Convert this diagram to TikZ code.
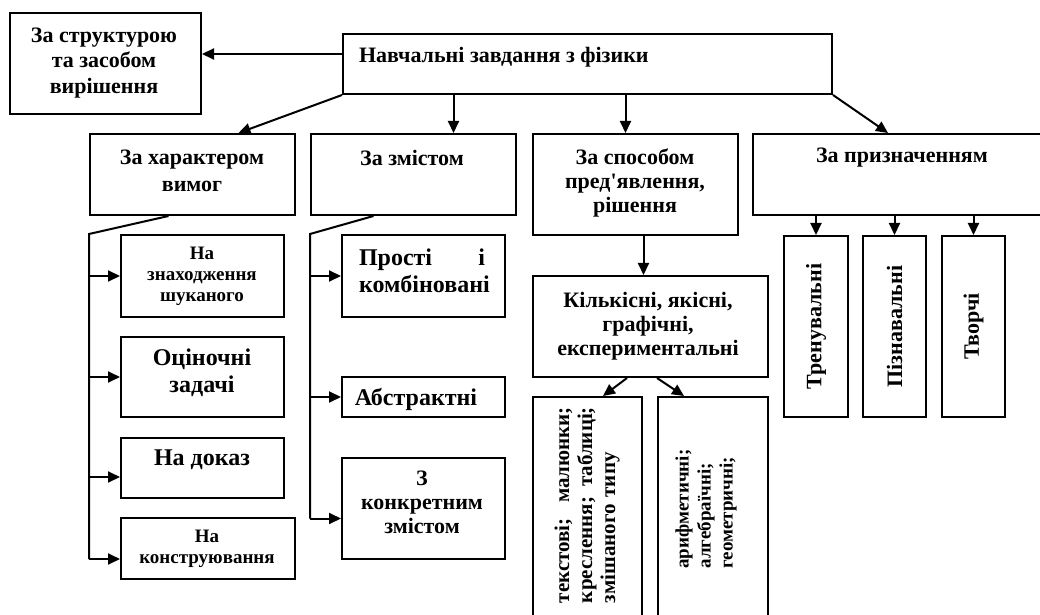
\documentclass[tikz,border=0pt]{standalone}
\usepackage{fontspec}
\setmainfont{Liberation Serif}[Ligatures=TeXOff]
\usetikzlibrary{arrows.meta,positioning}

\begin{document}
\begin{tikzpicture}[x=0.5pt,y=-0.5pt,>={Triangle[length=6pt,width=5.5pt]},line width=1pt]
  \tikzstyle{box}=[draw,line width=1pt,inner sep=0pt,anchor=north west]
  \tikzstyle{txt}=[inner sep=0pt,align=center,font=\bfseries\fontsize{11}{12.75}\selectfont]
  \tikzstyle{small}=[txt,font=\bfseries\fontsize{9.5}{10.5}\selectfont]
  \tikzstyle{big}=[txt,font=\bfseries\fontsize{12}{13.5}\selectfont]
  \tikzstyle{upright}=[txt,rotate=90,font=\bfseries\fontsize{10.5}{11.5}\selectfont]
  \clip (0,0) rectangle (1040,615);

  % top level
  \node [box,minimum width=95.5pt,minimum height=50.5pt] (struct) at (9,12) {};
  \node [txt] (structt) at (104,63) {За структурою\\та засобом\\вирішення};
  \node [box,minimum width=244.5pt,minimum height=30pt] (main) at (342,33) {};
  \node [txt,anchor=west] (maint) at (358,57) {Навчальні завдання з фізики};

  % second level
  \node [box,minimum width=102.5pt,minimum height=40.5pt] (char) at (89,133) {};
  \node [txt,font=\bfseries\fontsize{11}{13.5}\selectfont] (chart) at (192,171) {За характером\\вимог};
  \node [box,minimum width=102.5pt,minimum height=40.5pt] (zmist) at (310,133) {};
  \node [txt] (zmistt) at (412,158) {За змістом};
  \node [box,minimum width=102.5pt,minimum height=50.5pt] (sposib) at (532,133) {};
  \node [txt,font=\bfseries\fontsize{11}{12}\selectfont] (sposibt) at (635,183) {За способом\\пред'явлення,\\рішення};
  \node [box,minimum width=150pt,minimum height=40.5pt] (pryzn) at (752,133) {};
  \node [txt] (pryznt) at (902,158) {За призначенням};

  % za kharakterom vymog
  \node [box,minimum width=81.5pt,minimum height=41pt] (b1) at (120,234) {};
  \node [small] (b1t) at (202,276) {На\\знаходження\\шуканого};
  \node [box,minimum width=81.5pt,minimum height=40pt] (b2) at (120,336) {};
  \node [big] (b2t) at (202,373) {Оціночні\\задачі};
  \node [box,minimum width=81.5pt,minimum height=30pt] (b3) at (120,437) {};
  \node [big] (b3t) at (202,460) {На доказ};
  \node [box,minimum width=87pt,minimum height=30.5pt] (b4) at (120,517) {};
  \node [small] (b4t) at (207,549) {На\\конструювання};

  % za zmistom
  \node [box,minimum width=81.5pt,minimum height=41pt] (c1) at (341,234) {};
  \node [big,text width=63pt,align=left] (c1t) at (422,271) {Прості\hfill і\\комбіновані};
  \node [box,minimum width=81.5pt,minimum height=20pt] (c2) at (341,376) {};
  \node [big] (c2t) at (416,399) {Абстрактні};
  \node [box,minimum width=81.5pt,minimum height=50.5pt] (c3) at (341,457) {};
  \node [txt,font=\bfseries\fontsize{11}{12}\selectfont] (c3t) at (422,502) {З\\конкретним\\змістом};

  % za sposobom
  \node [box,minimum width=117.5pt,minimum height=50.5pt] (kilk) at (532,275) {};
  \node [txt,font=\bfseries\fontsize{11}{12}\selectfont] (kilkt) at (648,326) {Кількісні, якісні,\\графічні,\\експериментальні};
  \node [box,minimum width=54.5pt,minimum height=115pt] (tekst) at (532,396) {};
  \node [upright,text width=98pt,align=left] (tekstt) at (587,505) {текстові;\hfill малюнки;\\креслення;\hfill таблиці;\\змішаного типу};
  \node [box,minimum width=55pt,minimum height=115pt] (aryf) at (657,396) {};
  \node [upright,align=left,font=\bfseries\fontsize{9.5}{11}\selectfont] (aryft) at (706,509) {арифметичні;\\алгебраїчні;\\геометричні;};

  % za pryznachenniam
  \node [box,minimum width=32pt,minimum height=90.5pt] (tren) at (783,235) {};
  \node [txt,rotate=90] (trent) at (tren.center) {Тренувальні};
  \node [box,minimum width=31.5pt,minimum height=90.5pt] (pizn) at (862,235) {};
  \node [txt,rotate=90] (piznt) at (pizn.center) {Пізнавальні};
  \node [box,minimum width=31.5pt,minimum height=90.5pt] (tvor) at (941,235) {};
  \node [txt,rotate=90] (tvort) at (tvor.center) {Творчі};

  % connectors
  \draw [->] ([yshift=5pt]main.west) -- ([yshift=5pt]main.west -| struct.east);
  \draw [->] (main.south west) -- ([xshift=23pt]char.north);
  \draw [->] ([xshift=20pt]zmist.north |- main.south) -- ([xshift=20pt]zmist.north);
  \draw [->] ([xshift=-5pt]sposib.north |- main.south) -- ([xshift=-5pt]sposib.north);
  \draw [->] (main.south east) -- ([xshift=68pt]pryzn.north west);

  \coordinate (cb) at (89,234);
  \coordinate (b3in) at ([yshift=-4.5pt]b3.west);
  \coordinate (b4in) at ([yshift=-5.25pt]b4.west);
  \draw ([xshift=-12pt]char.south) -- (cb) -- (cb |- b4in);
  \draw [->] (cb |- b1.west) -- (b1.west);
  \draw [->] (cb |- b2.west) -- (b2.west);
  \draw [->] (cb |- b3in) -- (b3in);
  \draw [->] (cb |- b4in) -- (b4in);

  \coordinate (zb) at (310,234);
  \coordinate (c3in) at ([yshift=-5pt]c3.west);
  \draw ([xshift=-20pt]zmist.south) -- (zb) -- (zb |- c3in);
  \draw [->] (zb |- c1.west) -- (c1.west);
  \draw [->] (zb |- c2.west) -- (c2.west);
  \draw [->] (zb |- c3in) -- (c3in);

  \draw [->] ([xshift=4pt]sposib.south) -- ([xshift=4pt]sposib.south |- kilk.north);
  \draw [->] ([xshift=-11.75pt]kilk.south) -- ([xshift=7.75pt]tekst.north);
  \draw [->] ([xshift=3.25pt]kilk.south) -- ([xshift=-14.5pt]aryf.north);

  \draw [->] (tren.north |- pryzn.south) -- (tren.north);
  \draw [->] (pizn.north |- pryzn.south) -- (pizn.north);
  \draw [->] (tvor.north |- pryzn.south) -- (tvor.north);
\end{tikzpicture}
\end{document}
